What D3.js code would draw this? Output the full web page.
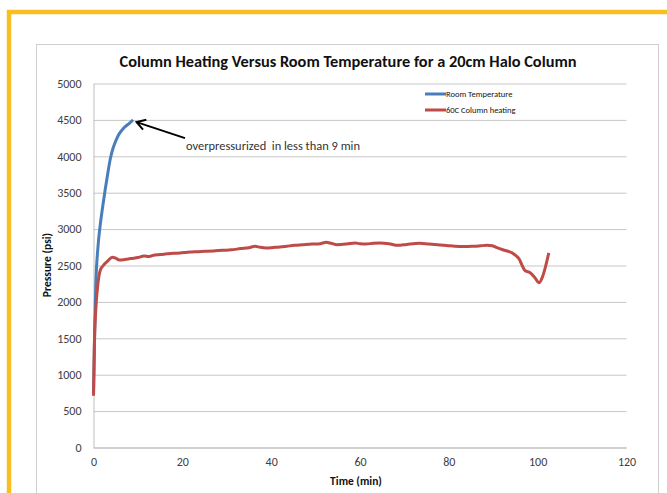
<!DOCTYPE html>
<html>
<head>
<meta charset="utf-8">
<script src="https://cdn.jsdelivr.net/npm/d3@7"></script>
<style>
  html, body { margin: 0; padding: 0; background: #fff; }
  svg { display: block; }
  text { font-family: Carlito, Calibri, Lato, "Open Sans", sans-serif; }
</style>
</head>
<body>
<script>
const title = "Column Heating Versus Room Temperature for a 20cm Halo Column";
const xLabel = "Time (min)";
const yLabel = "Pressure (psi)";
const xTicks = [0, 20, 40, 60, 80, 100, 120];
const yTicks = [0, 500, 1000, 1500, 2000, 2500, 3000, 3500, 4000, 4500, 5000];
const seriesNames = ["Room Temperature", "60C Column heating"];
const seriesColors = ["#4A7EBB", "#BE4B48"];

const roomTime = [0, 0.3, 0.5, 1.0, 1.5, 2.0, 2.6, 3.2, 3.8, 4.4, 5.0, 5.6, 6.4, 7.2, 8.0, 8.9];
const roomPressure = [714, 1700, 2200, 2750, 3050, 3280, 3530, 3760, 3970, 4110, 4210, 4290, 4360, 4410, 4450, 4500];

const heatTime = [0, 0.2, 0.5, 1.0, 1.5, 2.2, 3.3, 4.2, 5.0, 5.8, 6.8, 7.8, 9.0, 10.0, 11.4, 12.5, 13.8, 15.0, 16.5, 17.9, 19.5, 21.1, 23.0, 25.1, 27.0, 29.1, 31.0, 33.1, 35.0, 36.4, 37.5, 38.8, 40.5, 42.0, 43.5, 45.2, 47.0, 49.2, 51.0, 52.4, 53.5, 54.8, 57.0, 58.9, 60.0, 61.3, 63.0, 64.5, 66.5, 68.5, 70.5, 73.4, 75.5, 77.4, 79.5, 81.4, 83.5, 85.4, 87.0, 88.6, 89.8, 91.0, 92.5, 94.3, 95.2, 95.9, 96.5, 97.1, 98.3, 99.3, 100.3, 101.0, 101.5, 102.5];
const heatPressure = [714, 1430, 1880, 2250, 2430, 2500, 2568, 2615, 2600, 2575, 2580, 2590, 2600, 2610, 2630, 2625, 2645, 2650, 2660, 2668, 2672, 2682, 2690, 2695, 2700, 2709, 2715, 2732, 2745, 2764, 2750, 2741, 2748, 2755, 2765, 2777, 2785, 2795, 2800, 2818, 2805, 2786, 2795, 2809, 2800, 2795, 2805, 2809, 2800, 2777, 2790, 2805, 2795, 2786, 2775, 2764, 2760, 2764, 2770, 2777, 2770, 2741, 2710, 2673, 2630, 2582, 2500, 2432, 2400, 2340, 2264, 2330, 2423, 2673];

const annotationText = "overpressurized  in less than 9 min";

const W = 667, H = 493;
const svg = d3.select("body").append("svg").attr("width", W).attr("height", H);
svg.append("rect").attr("width", W).attr("height", H).attr("fill", "#fff");

// slide frame
svg.append("rect").attr("x", 9).attr("y", 12).attr("width", 700).attr("height", 520)
  .attr("fill", "none").attr("stroke", "#F8BE22").attr("stroke-width", 4.5);

// chart area box
svg.append("rect").attr("x", 36.5).attr("y", 44.5).attr("width", 622).attr("height", 500)
  .attr("fill", "#fff").attr("stroke", "#CFCFCF").attr("stroke-width", 1);

const x = d3.scaleLinear().domain([0, 120]).range([93.5, 626.5]);
const y = d3.scaleLinear().domain([0, 5000]).range([447.5, 83.5]);

// gridlines
svg.append("g").attr("transform", `translate(${x.range()[0]},0)`)
  .call(d3.axisLeft(y).tickValues(yTicks).tickSize(-(x.range()[1] - x.range()[0])).tickFormat(""))
  .call(g => g.select(".domain").remove())
  .call(g => g.selectAll("line").attr("stroke", "#C6C6C6"));

// y axis labels
const yAx = svg.append("g").attr("transform", `translate(${x.range()[0]},0)`)
  .call(d3.axisLeft(y).tickValues(yTicks).tickFormat(d3.format("d")).tickSize(0).tickPadding(12));
yAx.select(".domain").attr("stroke", "#BFBFBF");
yAx.selectAll("text").attr("font-size", 12).attr("fill", "#404040")
  .style("font-family", "Carlito, Calibri, Lato, sans-serif");

// x axis
const xAx = svg.append("g").attr("transform", `translate(0,${y(0)})`)
  .call(d3.axisBottom(x).tickValues(xTicks).tickFormat(d3.format("d")).tickSize(0).tickPadding(10));
xAx.select(".domain").attr("stroke", "#BFBFBF");
xAx.selectAll("text").attr("font-size", 12).attr("fill", "#404040")
  .style("font-family", "Carlito, Calibri, Lato, sans-serif");

// title
svg.append("text").attr("x", 348).attr("y", 67).attr("text-anchor", "middle")
  .attr("font-size", 15).attr("font-weight", "bold").attr("fill", "#111")
  .attr("textLength", 457).attr("lengthAdjust", "spacingAndGlyphs").text(title);

// axis titles
svg.append("text").attr("x", 356).attr("y", 485).attr("text-anchor", "middle")
  .attr("font-size", 11.5).attr("font-weight", "bold").attr("fill", "#111").text(xLabel);
svg.append("text").attr("transform", `translate(51,265) rotate(-90)`).attr("text-anchor", "middle")
  .attr("font-size", 11.5).attr("font-weight", "bold").attr("fill", "#111").text(yLabel);

// lines
const line = d3.line().x(d => x(d[0])).y(d => y(d[1])).curve(d3.curveMonotoneX);
const roomData = roomTime.map((t, i) => [t, roomPressure[i]]);
const heatData = heatTime.map((t, i) => [t, heatPressure[i]]);
svg.append("path").datum(roomData).attr("d", line).attr("fill", "none")
  .attr("stroke", seriesColors[0]).attr("stroke-width", 3).attr("stroke-linejoin", "round");
svg.append("path").datum(heatData).attr("d", line).attr("fill", "none")
  .attr("stroke", seriesColors[1]).attr("stroke-width", 3).attr("stroke-linejoin", "round");

// legend
const legend = svg.append("g");
seriesNames.forEach((name, i) => {
  const ly = 94 + i * 16;
  legend.append("line").attr("x1", 425).attr("x2", 446).attr("y1", ly).attr("y2", ly)
    .attr("stroke", seriesColors[i]).attr("stroke-width", 3);
  legend.append("text").attr("x", 446).attr("y", ly + 3).attr("font-size", 8.5).attr("fill", "#111").text(name);
});

// annotation arrow
const tip = [x(9.7), y(4470)];
const tail = [x(20.6), y(4250)];
svg.append("line").attr("x1", tail[0]).attr("y1", tail[1]).attr("x2", tip[0]).attr("y2", tip[1])
  .attr("stroke", "#000").attr("stroke-width", 2);
const ang = Math.atan2(tail[1] - tip[1], tail[0] - tip[0]);
const hl = 10, ha = 0.55;
const p1 = [tip[0] + hl * Math.cos(ang + ha), tip[1] + hl * Math.sin(ang + ha)];
const p2 = [tip[0] + hl * Math.cos(ang - ha), tip[1] + hl * Math.sin(ang - ha)];
svg.append("path").attr("d", `M${p1[0]},${p1[1]}L${tip[0]},${tip[1]}L${p2[0]},${p2[1]}`)
  .attr("fill", "none").attr("stroke", "#000").attr("stroke-width", 2);
svg.append("text").attr("x", 186).attr("y", 150).attr("font-size", 12).attr("fill", "#333")
  .attr("textLength", 174).attr("lengthAdjust", "spacingAndGlyphs")
  .attr("xml:space", "preserve").text(annotationText);
</script>
</body>
</html>
